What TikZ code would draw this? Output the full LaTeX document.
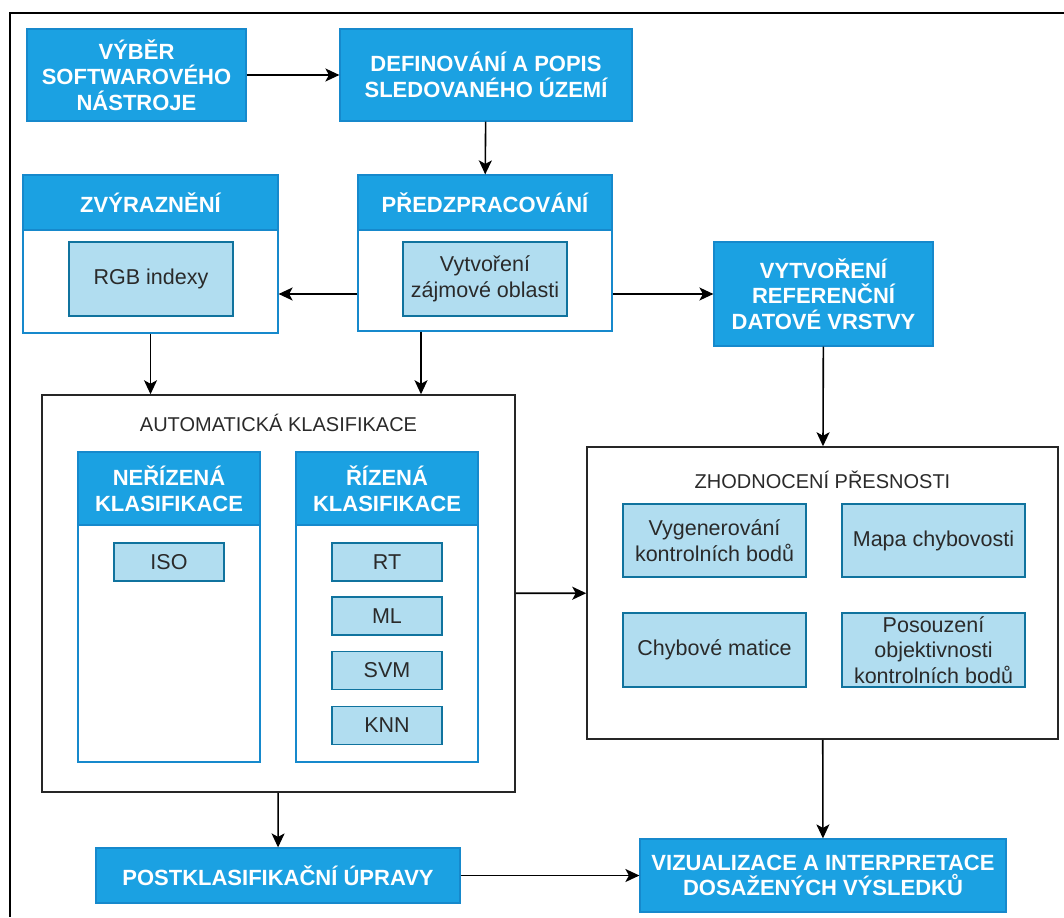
\documentclass[tikz,border=0pt]{standalone}
\usepackage{fontspec}
\setmainfont{Liberation Sans}
\usetikzlibrary{arrows.meta}
\definecolor{hdrblue}{HTML}{1BA1E2}
\definecolor{hdrline}{HTML}{1689CC}
\definecolor{liteblue}{HTML}{B1DDF0}
\definecolor{liteline}{HTML}{10739E}
\definecolor{txtgray}{HTML}{2A2A2A}

\begin{document}
\begin{tikzpicture}[x=1pt,y=-1pt,
  hdr/.style={draw=hdrline,fill=hdrblue,text=white,line width=1.2pt,align=center,inner sep=0pt,font=\bfseries\fontsize{22}{25.5}\selectfont},
  lite/.style={draw=liteline,fill=liteblue,text=txtgray,line width=1.2pt,align=center,inner sep=0pt,font=\fontsize{21.5}{25.5}\selectfont},
  lane/.style={draw=hdrline,fill=white,line width=1.2pt,inner sep=0pt},
  grp/.style={draw=black!85,line width=1.5pt,inner sep=0pt},
  ttl/.style={text=txtgray,inner sep=0pt,font=\fontsize{20}{24}\selectfont},
  arr/.style={-{Stealth[length=14pt,width=13pt,inset=3.5pt]},line width=1.6pt}]
\useasboundingbox (0,0) rectangle (1064,917);
\draw[line width=2pt] (1064,13) -- (10,13) -- (10,917);

\node[hdr,minimum width=219pt,minimum height=92pt] (sw) at (136.5,75) {VÝBĚR\\SOFTWAROVÉHO\\NÁSTROJE};
\node[hdr,minimum width=292pt,minimum height=92pt] (def) at (486,75) {DEFINOVÁNÍ A POPIS\\SLEDOVANÉHO ÚZEMÍ};

\node[lane,minimum width=255pt,minimum height=158pt] (zvyr) at (150.5,254) {};
\node[hdr,minimum width=255pt,minimum height=55pt,anchor=north] (zvyrhead) at (zvyr.north) {ZVÝRAZNĚNÍ};
\node[lite,minimum width=164pt,minimum height=74pt] (rgb) at (151,279) {RGB indexy};

\node[lane,minimum width=254pt,minimum height=156pt] (pred) at (485,253) {};
\node[hdr,minimum width=254pt,minimum height=55pt,anchor=north] (predhead) at (pred.north) {PŘEDZPRACOVÁNÍ};
\node[lite,minimum width=164pt,minimum height=74pt] (aoi) at (485,279) {Vytvoření\\zájmové oblasti};

\node[hdr,minimum width=219pt,minimum height=104pt] (ref) at (823.5,294) {VYTVOŘENÍ\\REFERENČNÍ\\DATOVÉ VRSTVY};

\node[grp,minimum width=473pt,minimum height=397pt] (auto) at (278.5,593.5) {};
\node[ttl] (autottl) at (278.5,423) {AUTOMATICKÁ KLASIFIKACE};
\node[lane,minimum width=182pt,minimum height=310pt] (unsup) at (169,607) {};
\node[hdr,minimum width=182pt,minimum height=73pt,anchor=north] (unsuphead) at (unsup.north) {NEŘÍZENÁ\\KLASIFIKACE};
\node[lite,minimum width=110pt,minimum height=38pt] (iso) at (169,562) {ISO};
\node[lane,minimum width=182pt,minimum height=310pt] (sup) at (387,607) {};
\node[hdr,minimum width=182pt,minimum height=73pt,anchor=north] (suphead) at (sup.north) {ŘÍZENÁ\\KLASIFIKACE};
\node[lite,minimum width=110pt,minimum height=38pt] (rt) at (387,562) {RT};
\node[lite,minimum width=110pt,minimum height=38pt] (ml) at (387,616) {ML};
\node[lite,minimum width=110pt,minimum height=38pt] (svm) at (387,670.5) {SVM};
\node[lite,minimum width=110pt,minimum height=38pt] (knn) at (387,725.5) {KNN};

\node[grp,minimum width=471pt,minimum height=292pt] (zhod) at (822.5,593) {};
\node[ttl] (zhodttl) at (822.5,480) {ZHODNOCENÍ PŘESNOSTI};
\node[lite,minimum width=183pt,minimum height=73pt] (gen) at (714.5,540.5) {Vygenerování\\kontrolních bodů};
\node[lite,minimum width=183pt,minimum height=73pt] (err) at (933.5,540.5) {Mapa chybovosti};
\node[lite,minimum width=183pt,minimum height=74pt] (mat) at (714.5,650) {Chybové matice};
\node[lite,minimum width=183pt,minimum height=74pt] (obj) at (933.5,650) {Posouzení\\objektivnosti\\kontrolních bodů};

\node[hdr,minimum width=364pt,minimum height=55pt] (post) at (278,875.5) {POSTKLASIFIKAČNÍ ÚPRAVY};
\node[hdr,minimum width=366pt,minimum height=73pt] (viz) at (823,875.5) {VIZUALIZACE A INTERPRETACE\\DOSAŽENÝCH VÝSLEDKŮ};

\draw[arr] (sw) -- (def);
\draw[arr] (def) -- (predhead);
\draw[arr] (pred.west |- ref) -- (zvyr.east |- ref);
\draw[arr] (pred.east |- ref) -- (ref);
\draw[arr] (zvyr) -- (zvyr.south |- auto.north);
\draw[arr] ([xshift=-64pt]pred.south) -- ([xshift=-64pt]pred.south |- auto.north);
\draw[arr] (ref) -- (zhod);
\draw[arr] (auto) -- (zhod);
\draw[arr] (zhod) -- (viz);
\draw[arr] (auto) -- (post);
\draw[arr] (post) -- (viz);
\end{tikzpicture}
\end{document}
